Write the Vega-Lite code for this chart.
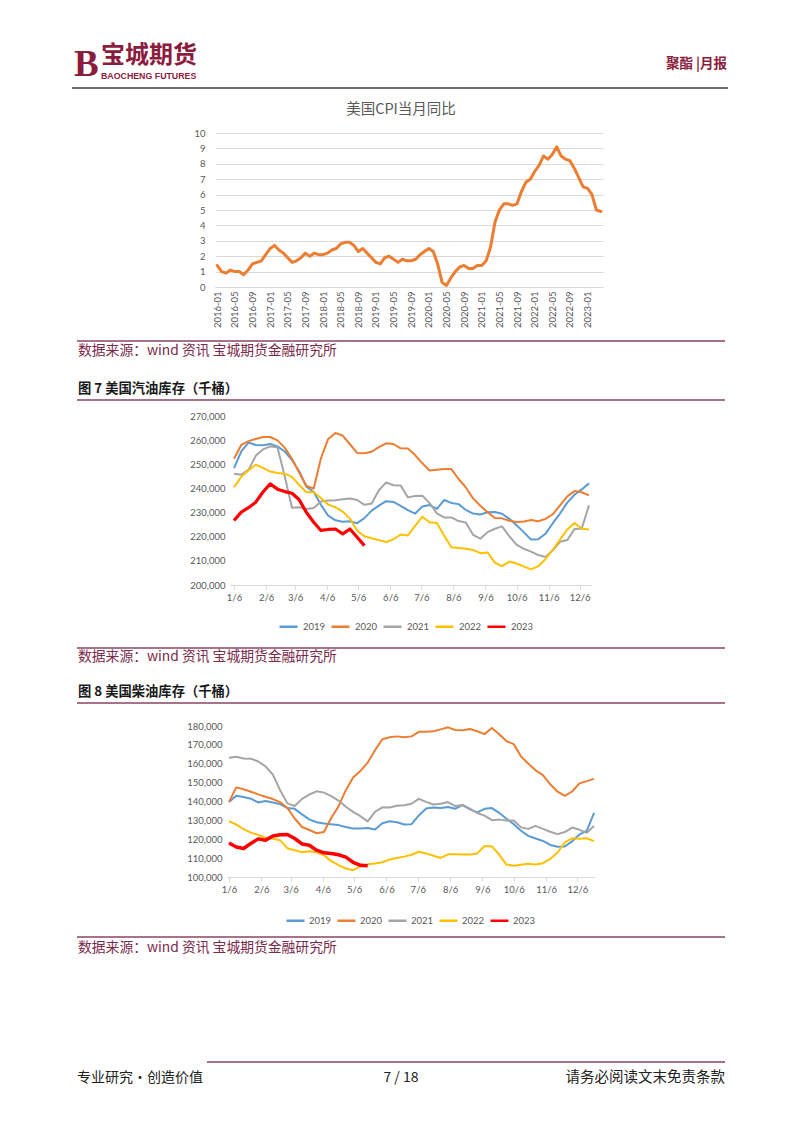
{
"$schema": "https://vega.github.io/schema/vega-lite/v6.json",
"padding": 0,
"background": "white",
"spacing": 0,
"bounds": "flush",
"center": true,
"resolve": {"scale": {"color": "independent", "x": "independent", "y": "independent"}, "legend": {"color": "independent"}},
"config": {"view": {"stroke": null}, "font": "Lato"},
"datasets": {
"cpi": [
{"m":"2016-01","v":1.4},{"m":"2016-02","v":1.0},{"m":"2016-03","v":0.9},{"m":"2016-04","v":1.1},{"m":"2016-05","v":1.0},{"m":"2016-06","v":1.0},{"m":"2016-07","v":0.8},{"m":"2016-08","v":1.1},{"m":"2016-09","v":1.5},{"m":"2016-10","v":1.6},{"m":"2016-11","v":1.7},{"m":"2016-12","v":2.1},
{"m":"2017-01","v":2.5},{"m":"2017-02","v":2.7},{"m":"2017-03","v":2.4},{"m":"2017-04","v":2.2},{"m":"2017-05","v":1.9},{"m":"2017-06","v":1.6},{"m":"2017-07","v":1.7},{"m":"2017-08","v":1.9},{"m":"2017-09","v":2.2},{"m":"2017-10","v":2.0},{"m":"2017-11","v":2.2},{"m":"2017-12","v":2.1},
{"m":"2018-01","v":2.1},{"m":"2018-02","v":2.2},{"m":"2018-03","v":2.4},{"m":"2018-04","v":2.5},{"m":"2018-05","v":2.8},{"m":"2018-06","v":2.9},{"m":"2018-07","v":2.9},{"m":"2018-08","v":2.7},{"m":"2018-09","v":2.3},{"m":"2018-10","v":2.5},{"m":"2018-11","v":2.2},{"m":"2018-12","v":1.9},
{"m":"2019-01","v":1.6},{"m":"2019-02","v":1.5},{"m":"2019-03","v":1.9},{"m":"2019-04","v":2.0},{"m":"2019-05","v":1.8},{"m":"2019-06","v":1.6},{"m":"2019-07","v":1.8},{"m":"2019-08","v":1.7},{"m":"2019-09","v":1.7},{"m":"2019-10","v":1.8},{"m":"2019-11","v":2.1},{"m":"2019-12","v":2.3},
{"m":"2020-01","v":2.5},{"m":"2020-02","v":2.3},{"m":"2020-03","v":1.5},{"m":"2020-04","v":0.3},{"m":"2020-05","v":0.1},{"m":"2020-06","v":0.6},{"m":"2020-07","v":1.0},{"m":"2020-08","v":1.3},{"m":"2020-09","v":1.4},{"m":"2020-10","v":1.2},{"m":"2020-11","v":1.2},{"m":"2020-12","v":1.4},
{"m":"2021-01","v":1.4},{"m":"2021-02","v":1.7},{"m":"2021-03","v":2.6},{"m":"2021-04","v":4.2},{"m":"2021-05","v":5.0},{"m":"2021-06","v":5.4},{"m":"2021-07","v":5.4},{"m":"2021-08","v":5.3},{"m":"2021-09","v":5.4},{"m":"2021-10","v":6.2},{"m":"2021-11","v":6.8},{"m":"2021-12","v":7.0},
{"m":"2022-01","v":7.5},{"m":"2022-02","v":7.9},{"m":"2022-03","v":8.5},{"m":"2022-04","v":8.3},{"m":"2022-05","v":8.6},{"m":"2022-06","v":9.1},{"m":"2022-07","v":8.5},{"m":"2022-08","v":8.3},{"m":"2022-09","v":8.2},{"m":"2022-10","v":7.7},{"m":"2022-11","v":7.1},{"m":"2022-12","v":6.5},
{"m":"2023-01","v":6.4},{"m":"2023-02","v":6.0},{"m":"2023-03","v":5.0},{"m":"2023-04","v":4.9}
],
"gas": [
{"d":"2023-01-06","s":"2019","v":248400},{"d":"2023-01-13","s":"2019","v":255300},{"d":"2023-01-20","s":"2019","v":259000},{"d":"2023-01-27","s":"2019","v":258000},{"d":"2023-02-03","s":"2019","v":257900},{"d":"2023-02-10","s":"2019","v":258400},{"d":"2023-02-17","s":"2019","v":257400},{"d":"2023-02-24","s":"2019","v":255300},{"d":"2023-03-03","s":"2019","v":251800},{"d":"2023-03-10","s":"2019","v":247100},
{"d":"2023-03-17","s":"2019","v":240700},{"d":"2023-03-24","s":"2019","v":238500},{"d":"2023-03-31","s":"2019","v":233200},{"d":"2023-04-07","s":"2019","v":228700},{"d":"2023-04-14","s":"2019","v":226800},{"d":"2023-04-21","s":"2019","v":226200},{"d":"2023-04-28","s":"2019","v":226400},{"d":"2023-05-05","s":"2019","v":225600},{"d":"2023-05-12","s":"2019","v":227700},{"d":"2023-05-19","s":"2019","v":230800},
{"d":"2023-05-26","s":"2019","v":232900},{"d":"2023-06-02","s":"2019","v":234700},{"d":"2023-06-09","s":"2019","v":234400},{"d":"2023-06-16","s":"2019","v":232800},{"d":"2023-06-23","s":"2019","v":231000},{"d":"2023-06-30","s":"2019","v":229600},{"d":"2023-07-07","s":"2019","v":232500},{"d":"2023-07-14","s":"2019","v":233100},{"d":"2023-07-21","s":"2019","v":231500},{"d":"2023-07-28","s":"2019","v":235200},
{"d":"2023-08-04","s":"2019","v":234000},{"d":"2023-08-11","s":"2019","v":233500},{"d":"2023-08-18","s":"2019","v":231100},{"d":"2023-08-25","s":"2019","v":229600},{"d":"2023-09-01","s":"2019","v":229200},{"d":"2023-09-08","s":"2019","v":230100},{"d":"2023-09-15","s":"2019","v":230200},{"d":"2023-09-22","s":"2019","v":229500},{"d":"2023-09-29","s":"2019","v":227400},{"d":"2023-10-06","s":"2019","v":224700},
{"d":"2023-10-13","s":"2019","v":221900},{"d":"2023-10-20","s":"2019","v":218800},{"d":"2023-10-27","s":"2019","v":219000},{"d":"2023-11-03","s":"2019","v":221200},{"d":"2023-11-10","s":"2019","v":225600},{"d":"2023-11-17","s":"2019","v":229600},{"d":"2023-11-24","s":"2019","v":234100},{"d":"2023-12-01","s":"2019","v":237400},{"d":"2023-12-08","s":"2019","v":239600},{"d":"2023-12-15","s":"2019","v":242100},
{"d":"2023-01-06","s":"2020","v":252300},{"d":"2023-01-13","s":"2020","v":258000},{"d":"2023-01-20","s":"2020","v":259600},{"d":"2023-01-27","s":"2020","v":260500},{"d":"2023-02-03","s":"2020","v":261300},{"d":"2023-02-10","s":"2020","v":261300},{"d":"2023-02-17","s":"2020","v":259900},{"d":"2023-02-24","s":"2020","v":256900},{"d":"2023-03-03","s":"2020","v":252300},{"d":"2023-03-10","s":"2020","v":246500},
{"d":"2023-03-17","s":"2020","v":241000},{"d":"2023-03-24","s":"2020","v":240000},{"d":"2023-03-31","s":"2020","v":252500},{"d":"2023-04-07","s":"2020","v":260500},{"d":"2023-04-14","s":"2020","v":263000},{"d":"2023-04-21","s":"2020","v":261900},{"d":"2023-04-28","s":"2020","v":258300},{"d":"2023-05-05","s":"2020","v":254700},{"d":"2023-05-12","s":"2020","v":254600},{"d":"2023-05-19","s":"2020","v":255200},
{"d":"2023-05-26","s":"2020","v":257100},{"d":"2023-06-02","s":"2020","v":258700},{"d":"2023-06-09","s":"2020","v":258400},{"d":"2023-06-16","s":"2020","v":256600},{"d":"2023-06-23","s":"2020","v":256500},{"d":"2023-06-30","s":"2020","v":253800},{"d":"2023-07-07","s":"2020","v":250400},{"d":"2023-07-14","s":"2020","v":247400},{"d":"2023-07-21","s":"2020","v":247700},{"d":"2023-07-28","s":"2020","v":248000},
{"d":"2023-08-04","s":"2020","v":248000},{"d":"2023-08-11","s":"2020","v":243900},{"d":"2023-08-18","s":"2020","v":240400},{"d":"2023-08-25","s":"2020","v":235900},{"d":"2023-09-01","s":"2020","v":232800},{"d":"2023-09-08","s":"2020","v":230100},{"d":"2023-09-15","s":"2020","v":227800},{"d":"2023-09-22","s":"2020","v":227600},{"d":"2023-09-29","s":"2020","v":226600},{"d":"2023-10-06","s":"2020","v":226100},
{"d":"2023-10-13","s":"2020","v":226300},{"d":"2023-10-20","s":"2020","v":226900},{"d":"2023-10-27","s":"2020","v":226400},{"d":"2023-11-03","s":"2020","v":227400},{"d":"2023-11-10","s":"2020","v":229300},{"d":"2023-11-17","s":"2020","v":233000},{"d":"2023-11-24","s":"2020","v":236700},{"d":"2023-12-01","s":"2020","v":238900},{"d":"2023-12-08","s":"2020","v":238400},{"d":"2023-12-15","s":"2020","v":237100},
{"d":"2023-01-06","s":"2021","v":246100},{"d":"2023-01-13","s":"2021","v":245700},{"d":"2023-01-20","s":"2021","v":247700},{"d":"2023-01-27","s":"2021","v":253500},{"d":"2023-02-03","s":"2021","v":256200},{"d":"2023-02-10","s":"2021","v":257400},{"d":"2023-02-17","s":"2021","v":257100},{"d":"2023-02-24","s":"2021","v":245000},{"d":"2023-03-03","s":"2021","v":232000},{"d":"2023-03-10","s":"2021","v":232200},
{"d":"2023-03-17","s":"2021","v":231500},{"d":"2023-03-24","s":"2021","v":231900},{"d":"2023-03-31","s":"2021","v":234600},{"d":"2023-04-07","s":"2021","v":235000},{"d":"2023-04-14","s":"2021","v":235100},{"d":"2023-04-21","s":"2021","v":235500},{"d":"2023-04-28","s":"2021","v":235800},{"d":"2023-05-05","s":"2021","v":235200},{"d":"2023-05-12","s":"2021","v":233200},{"d":"2023-05-19","s":"2021","v":233800},
{"d":"2023-05-26","s":"2021","v":239200},{"d":"2023-06-02","s":"2021","v":242500},{"d":"2023-06-09","s":"2021","v":241300},{"d":"2023-06-16","s":"2021","v":241200},{"d":"2023-06-23","s":"2021","v":236300},{"d":"2023-06-30","s":"2021","v":236900},{"d":"2023-07-07","s":"2021","v":237000},{"d":"2023-07-14","s":"2021","v":233900},{"d":"2023-07-21","s":"2021","v":229700},{"d":"2023-07-28","s":"2021","v":228000},
{"d":"2023-08-04","s":"2021","v":228000},{"d":"2023-08-11","s":"2021","v":226500},{"d":"2023-08-18","s":"2021","v":225900},{"d":"2023-08-25","s":"2021","v":220800},{"d":"2023-09-01","s":"2021","v":219200},{"d":"2023-09-08","s":"2021","v":221900},{"d":"2023-09-15","s":"2021","v":223300},{"d":"2023-09-22","s":"2021","v":224300},{"d":"2023-09-29","s":"2021","v":220200},{"d":"2023-10-06","s":"2021","v":216700},
{"d":"2023-10-13","s":"2021","v":215000},{"d":"2023-10-20","s":"2021","v":213800},{"d":"2023-10-27","s":"2021","v":212400},{"d":"2023-11-03","s":"2021","v":211600},{"d":"2023-11-10","s":"2021","v":214400},{"d":"2023-11-17","s":"2021","v":217900},{"d":"2023-11-24","s":"2021","v":218600},{"d":"2023-12-01","s":"2021","v":223200},{"d":"2023-12-08","s":"2021","v":223400},{"d":"2023-12-15","s":"2021","v":233000},
{"d":"2023-01-06","s":"2022","v":240500},{"d":"2023-01-13","s":"2022","v":244800},{"d":"2023-01-20","s":"2022","v":247500},{"d":"2023-01-27","s":"2022","v":249800},{"d":"2023-02-03","s":"2022","v":248500},{"d":"2023-02-10","s":"2022","v":247000},{"d":"2023-02-17","s":"2022","v":246400},{"d":"2023-02-24","s":"2022","v":246100},{"d":"2023-03-03","s":"2022","v":244800},{"d":"2023-03-10","s":"2022","v":241400},
{"d":"2023-03-17","s":"2022","v":238400},{"d":"2023-03-24","s":"2022","v":238500},{"d":"2023-03-31","s":"2022","v":236000},{"d":"2023-04-07","s":"2022","v":233300},{"d":"2023-04-14","s":"2022","v":232200},{"d":"2023-04-21","s":"2022","v":230400},{"d":"2023-04-28","s":"2022","v":227500},{"d":"2023-05-05","s":"2022","v":222600},{"d":"2023-05-12","s":"2022","v":220200},{"d":"2023-05-19","s":"2022","v":219400},
{"d":"2023-05-26","s":"2022","v":218600},{"d":"2023-06-02","s":"2022","v":217800},{"d":"2023-06-09","s":"2022","v":218900},{"d":"2023-06-16","s":"2022","v":220900},{"d":"2023-06-23","s":"2022","v":220500},{"d":"2023-06-30","s":"2022","v":224500},{"d":"2023-07-07","s":"2022","v":228300},{"d":"2023-07-14","s":"2022","v":226000},{"d":"2023-07-21","s":"2022","v":225700},{"d":"2023-07-28","s":"2022","v":220500},
{"d":"2023-08-04","s":"2022","v":215600},{"d":"2023-08-11","s":"2022","v":215300},{"d":"2023-08-18","s":"2022","v":215000},{"d":"2023-08-25","s":"2022","v":214500},{"d":"2023-09-01","s":"2022","v":213200},{"d":"2023-09-08","s":"2022","v":213500},{"d":"2023-09-15","s":"2022","v":209300},{"d":"2023-09-22","s":"2022","v":207800},{"d":"2023-09-29","s":"2022","v":209700},{"d":"2023-10-06","s":"2022","v":208900},
{"d":"2023-10-13","s":"2022","v":207700},{"d":"2023-10-20","s":"2022","v":206500},{"d":"2023-10-27","s":"2022","v":207800},{"d":"2023-11-03","s":"2022","v":210800},{"d":"2023-11-10","s":"2022","v":214600},{"d":"2023-11-17","s":"2022","v":218800},{"d":"2023-11-24","s":"2022","v":223000},{"d":"2023-12-01","s":"2022","v":225700},{"d":"2023-12-08","s":"2022","v":223300},{"d":"2023-12-15","s":"2022","v":223000},
{"d":"2023-01-06","s":"2023","v":226700},{"d":"2023-01-13","s":"2023","v":230200},{"d":"2023-01-20","s":"2023","v":232000},{"d":"2023-01-27","s":"2023","v":234300},{"d":"2023-02-03","s":"2023","v":238500},{"d":"2023-02-10","s":"2023","v":241900},{"d":"2023-02-17","s":"2023","v":239700},{"d":"2023-02-24","s":"2023","v":238700},{"d":"2023-03-03","s":"2023","v":238000},{"d":"2023-03-10","s":"2023","v":235300},
{"d":"2023-03-17","s":"2023","v":230000},{"d":"2023-03-24","s":"2023","v":226000},{"d":"2023-03-31","s":"2023","v":222600},{"d":"2023-04-07","s":"2023","v":223000},{"d":"2023-04-14","s":"2023","v":223200},{"d":"2023-04-21","s":"2023","v":221200},{"d":"2023-04-28","s":"2023","v":223200},{"d":"2023-05-05","s":"2023","v":219800},{"d":"2023-05-12","s":"2023","v":216300}
],
"diesel": [
{"d":"2023-01-06","s":"2019","v":139800},{"d":"2023-01-13","s":"2019","v":143100},{"d":"2023-01-20","s":"2019","v":142400},{"d":"2023-01-27","s":"2019","v":141500},{"d":"2023-02-03","s":"2019","v":139500},{"d":"2023-02-10","s":"2019","v":140300},{"d":"2023-02-17","s":"2019","v":139500},{"d":"2023-02-24","s":"2019","v":138600},{"d":"2023-03-03","s":"2019","v":136500},{"d":"2023-03-10","s":"2019","v":136100},
{"d":"2023-03-17","s":"2019","v":133200},{"d":"2023-03-24","s":"2019","v":130500},{"d":"2023-03-31","s":"2019","v":129000},{"d":"2023-04-07","s":"2019","v":128400},{"d":"2023-04-14","s":"2019","v":127900},{"d":"2023-04-21","s":"2019","v":127500},{"d":"2023-04-28","s":"2019","v":126500},{"d":"2023-05-05","s":"2019","v":125700},{"d":"2023-05-12","s":"2019","v":125700},{"d":"2023-05-19","s":"2019","v":126000},
{"d":"2023-05-26","s":"2019","v":125200},{"d":"2023-06-02","s":"2019","v":128500},{"d":"2023-06-09","s":"2019","v":129500},{"d":"2023-06-16","s":"2019","v":129000},{"d":"2023-06-23","s":"2019","v":127800},{"d":"2023-06-30","s":"2019","v":128000},{"d":"2023-07-07","s":"2019","v":132600},{"d":"2023-07-14","s":"2019","v":136300},{"d":"2023-07-21","s":"2019","v":136800},{"d":"2023-07-28","s":"2019","v":136600},
{"d":"2023-08-04","s":"2019","v":137100},{"d":"2023-08-11","s":"2019","v":136200},{"d":"2023-08-18","s":"2019","v":138100},{"d":"2023-08-25","s":"2019","v":135800},{"d":"2023-09-01","s":"2019","v":134200},{"d":"2023-09-08","s":"2019","v":136100},{"d":"2023-09-15","s":"2019","v":136500},{"d":"2023-09-22","s":"2019","v":134000},{"d":"2023-09-29","s":"2019","v":130900},{"d":"2023-10-06","s":"2019","v":128000},
{"d":"2023-10-13","s":"2019","v":124500},{"d":"2023-10-20","s":"2019","v":121800},{"d":"2023-10-27","s":"2019","v":120400},{"d":"2023-11-03","s":"2019","v":119100},{"d":"2023-11-10","s":"2019","v":117000},{"d":"2023-11-17","s":"2019","v":116000},{"d":"2023-11-24","s":"2019","v":116200},{"d":"2023-12-01","s":"2019","v":118900},{"d":"2023-12-08","s":"2019","v":122500},{"d":"2023-12-15","s":"2019","v":124500},{"d":"2023-12-22","s":"2019","v":134000},
{"d":"2023-01-06","s":"2020","v":139800},{"d":"2023-01-13","s":"2020","v":147500},{"d":"2023-01-20","s":"2020","v":146500},{"d":"2023-01-27","s":"2020","v":145200},{"d":"2023-02-03","s":"2020","v":143800},{"d":"2023-02-10","s":"2020","v":142500},{"d":"2023-02-17","s":"2020","v":141300},{"d":"2023-02-24","s":"2020","v":139600},{"d":"2023-03-03","s":"2020","v":136600},{"d":"2023-03-10","s":"2020","v":131000},
{"d":"2023-03-17","s":"2020","v":126500},{"d":"2023-03-24","s":"2020","v":124900},{"d":"2023-03-31","s":"2020","v":123200},{"d":"2023-04-07","s":"2020","v":123800},{"d":"2023-04-14","s":"2020","v":131300},{"d":"2023-04-21","s":"2020","v":137400},{"d":"2023-04-28","s":"2020","v":146000},{"d":"2023-05-05","s":"2020","v":152700},{"d":"2023-05-12","s":"2020","v":156200},{"d":"2023-05-19","s":"2020","v":160600},
{"d":"2023-05-26","s":"2020","v":167200},{"d":"2023-06-02","s":"2020","v":173000},{"d":"2023-06-09","s":"2020","v":174000},{"d":"2023-06-16","s":"2020","v":174500},{"d":"2023-06-23","s":"2020","v":174000},{"d":"2023-06-30","s":"2020","v":174500},{"d":"2023-07-07","s":"2020","v":176900},{"d":"2023-07-14","s":"2020","v":177000},{"d":"2023-07-21","s":"2020","v":177200},{"d":"2023-07-28","s":"2020","v":178200},
{"d":"2023-08-04","s":"2020","v":179300},{"d":"2023-08-11","s":"2020","v":177900},{"d":"2023-08-18","s":"2020","v":177800},{"d":"2023-08-25","s":"2020","v":178400},{"d":"2023-09-01","s":"2020","v":177200},{"d":"2023-09-08","s":"2020","v":175700},{"d":"2023-09-15","s":"2020","v":179000},{"d":"2023-09-22","s":"2020","v":175600},{"d":"2023-09-29","s":"2020","v":172000},{"d":"2023-10-06","s":"2020","v":170400},
{"d":"2023-10-13","s":"2020","v":163800},{"d":"2023-10-20","s":"2020","v":160000},{"d":"2023-10-27","s":"2020","v":156500},{"d":"2023-11-03","s":"2020","v":154000},{"d":"2023-11-10","s":"2020","v":149100},{"d":"2023-11-17","s":"2020","v":145200},{"d":"2023-11-24","s":"2020","v":143000},{"d":"2023-12-01","s":"2020","v":145300},{"d":"2023-12-08","s":"2020","v":149600},{"d":"2023-12-15","s":"2020","v":150800},{"d":"2023-12-22","s":"2020","v":152000},
{"d":"2023-01-06","s":"2021","v":163200},{"d":"2023-01-13","s":"2021","v":163700},{"d":"2023-01-20","s":"2021","v":162800},{"d":"2023-01-27","s":"2021","v":162700},{"d":"2023-02-03","s":"2021","v":161200},{"d":"2023-02-10","s":"2021","v":158600},{"d":"2023-02-17","s":"2021","v":154300},{"d":"2023-02-24","s":"2021","v":146000},{"d":"2023-03-03","s":"2021","v":139000},{"d":"2023-03-10","s":"2021","v":137600},
{"d":"2023-03-17","s":"2021","v":141400},{"d":"2023-03-24","s":"2021","v":143700},{"d":"2023-03-31","s":"2021","v":145400},{"d":"2023-04-07","s":"2021","v":144700},{"d":"2023-04-14","s":"2021","v":142800},{"d":"2023-04-21","s":"2021","v":140500},{"d":"2023-04-28","s":"2021","v":137200},{"d":"2023-05-05","s":"2021","v":134500},{"d":"2023-05-12","s":"2021","v":132200},{"d":"2023-05-19","s":"2021","v":129500},
{"d":"2023-05-26","s":"2021","v":134500},{"d":"2023-06-02","s":"2021","v":136900},{"d":"2023-06-09","s":"2021","v":136800},{"d":"2023-06-16","s":"2021","v":137700},{"d":"2023-06-23","s":"2021","v":138000},{"d":"2023-06-30","s":"2021","v":138800},{"d":"2023-07-07","s":"2021","v":141400},{"d":"2023-07-14","s":"2021","v":139800},{"d":"2023-07-21","s":"2021","v":138400},{"d":"2023-07-28","s":"2021","v":138800},
{"d":"2023-08-04","s":"2021","v":139700},{"d":"2023-08-11","s":"2021","v":137600},{"d":"2023-08-18","s":"2021","v":138200},{"d":"2023-08-25","s":"2021","v":136200},{"d":"2023-09-01","s":"2021","v":133900},{"d":"2023-09-08","s":"2021","v":132500},{"d":"2023-09-15","s":"2021","v":130100},{"d":"2023-09-22","s":"2021","v":130400},{"d":"2023-09-29","s":"2021","v":129900},{"d":"2023-10-06","s":"2021","v":129900},
{"d":"2023-10-13","s":"2021","v":126300},{"d":"2023-10-20","s":"2021","v":125500},{"d":"2023-10-27","s":"2021","v":127100},{"d":"2023-11-03","s":"2021","v":125500},{"d":"2023-11-10","s":"2021","v":124000},{"d":"2023-11-17","s":"2021","v":122700},{"d":"2023-11-24","s":"2021","v":123800},{"d":"2023-12-01","s":"2021","v":126200},{"d":"2023-12-08","s":"2021","v":125000},{"d":"2023-12-15","s":"2021","v":123400},{"d":"2023-12-22","s":"2021","v":127000},
{"d":"2023-01-06","s":"2022","v":129600},{"d":"2023-01-13","s":"2022","v":127800},{"d":"2023-01-20","s":"2022","v":125400},{"d":"2023-01-27","s":"2022","v":123500},{"d":"2023-02-03","s":"2022","v":122300},{"d":"2023-02-10","s":"2022","v":120800},{"d":"2023-02-17","s":"2022","v":120300},{"d":"2023-02-24","s":"2022","v":119500},{"d":"2023-03-03","s":"2022","v":115200},{"d":"2023-03-10","s":"2022","v":114200},
{"d":"2023-03-17","s":"2022","v":113100},{"d":"2023-03-24","s":"2022","v":113600},{"d":"2023-03-31","s":"2022","v":113100},{"d":"2023-04-07","s":"2022","v":111500},{"d":"2023-04-14","s":"2022","v":108400},{"d":"2023-04-21","s":"2022","v":106300},{"d":"2023-04-28","s":"2022","v":104500},{"d":"2023-05-05","s":"2022","v":103600},{"d":"2023-05-12","s":"2022","v":105600},{"d":"2023-05-19","s":"2022","v":106700},
{"d":"2023-05-26","s":"2022","v":107100},{"d":"2023-06-02","s":"2022","v":107800},{"d":"2023-06-09","s":"2022","v":109300},{"d":"2023-06-16","s":"2022","v":110100},{"d":"2023-06-23","s":"2022","v":110800},{"d":"2023-06-30","s":"2022","v":111800},{"d":"2023-07-07","s":"2022","v":113400},{"d":"2023-07-14","s":"2022","v":112500},{"d":"2023-07-21","s":"2022","v":111300},{"d":"2023-07-28","s":"2022","v":110100},
{"d":"2023-08-04","s":"2022","v":112000},{"d":"2023-08-11","s":"2022","v":112100},{"d":"2023-08-18","s":"2022","v":111900},{"d":"2023-08-25","s":"2022","v":111900},{"d":"2023-09-01","s":"2022","v":112500},{"d":"2023-09-08","s":"2022","v":116400},{"d":"2023-09-15","s":"2022","v":116200},{"d":"2023-09-22","s":"2022","v":111900},{"d":"2023-09-29","s":"2022","v":106600},{"d":"2023-10-06","s":"2022","v":106000},
{"d":"2023-10-13","s":"2022","v":106500},{"d":"2023-10-20","s":"2022","v":107000},{"d":"2023-10-27","s":"2022","v":106600},{"d":"2023-11-03","s":"2022","v":107300},{"d":"2023-11-10","s":"2022","v":109600},{"d":"2023-11-17","s":"2022","v":113000},{"d":"2023-11-24","s":"2022","v":118400},{"d":"2023-12-01","s":"2022","v":120500},{"d":"2023-12-08","s":"2022","v":120300},{"d":"2023-12-15","s":"2022","v":120500},{"d":"2023-12-22","s":"2022","v":119000},
{"d":"2023-01-06","s":"2023","v":118000},{"d":"2023-01-13","s":"2023","v":115900},{"d":"2023-01-20","s":"2023","v":115100},{"d":"2023-01-27","s":"2023","v":117800},{"d":"2023-02-03","s":"2023","v":120200},{"d":"2023-02-10","s":"2023","v":119500},{"d":"2023-02-17","s":"2023","v":121700},{"d":"2023-02-24","s":"2023","v":122400},{"d":"2023-03-03","s":"2023","v":122500},{"d":"2023-03-10","s":"2023","v":120400},
{"d":"2023-03-17","s":"2023","v":117500},{"d":"2023-03-24","s":"2023","v":116800},{"d":"2023-03-31","s":"2023","v":114200},{"d":"2023-04-07","s":"2023","v":112800},{"d":"2023-04-14","s":"2023","v":112400},{"d":"2023-04-21","s":"2023","v":111800},{"d":"2023-04-28","s":"2023","v":110500},{"d":"2023-05-05","s":"2023","v":107800},{"d":"2023-05-12","s":"2023","v":106200},{"d":"2023-05-19","s":"2023","v":105900}
]
},
"vconcat": [
{
"width": 802, "height": 133,
"layer": [
{"data": {"values": [{"t": "B"}]}, "mark": {"type": "text", "align": "left", "baseline": "alphabetic", "font": "Liberation Serif", "fontSize": 37, "fontWeight": "bold", "color": "#8b1c3e"}, "encoding": {"x": {"datum": 74, "type": "quantitative", "scale": {"domain": [0, 802], "nice": false, "zero": false}, "axis": null}, "y": {"datum": 76, "type": "quantitative", "scale": {"domain": [0, 133], "nice": false, "zero": false, "reverse": true}, "axis": null}, "text": {"field": "t", "type": "nominal"}}},
{"data": {"values": [{"t": "宝城期货"}]}, "mark": {"type": "text", "align": "left", "baseline": "middle", "font": "Noto Sans CJK SC", "fontSize": 24, "fontWeight": "bold", "color": "#8b1c3e"}, "encoding": {"x": {"datum": 101, "type": "quantitative", "axis": null}, "y": {"datum": 56, "type": "quantitative", "axis": null}, "text": {"field": "t", "type": "nominal"}}},
{"data": {"values": [{"t": "BAOCHENG FUTURES"}]}, "mark": {"type": "text", "align": "left", "baseline": "middle", "font": "Liberation Sans", "fontSize": 8.8, "fontWeight": "bold", "color": "#8b1c3e"}, "encoding": {"x": {"datum": 101, "type": "quantitative", "axis": null}, "y": {"datum": 76, "type": "quantitative", "axis": null}, "text": {"field": "t", "type": "nominal"}}},
{"data": {"values": [{"t": "聚酯  |月报"}]}, "mark": {"type": "text", "align": "right", "baseline": "middle", "font": "Noto Sans CJK SC", "fontSize": 13.5, "fontWeight": "bold", "color": "#8b1c3e"}, "encoding": {"x": {"datum": 727, "type": "quantitative", "axis": null}, "y": {"datum": 64, "type": "quantitative", "axis": null}, "text": {"field": "t", "type": "nominal"}}},
{"data": {"values": [{}]}, "mark": {"type": "rule", "color": "#3a3a3a", "strokeWidth": 1.5}, "encoding": {"x": {"datum": 72, "type": "quantitative", "axis": null}, "x2": {"datum": 728}, "y": {"datum": 88, "type": "quantitative", "axis": null}}}
]
},
{
"width": 404, "height": 154,
"title": {"text": "美国CPI当月同比", "font": "Noto Sans CJK SC", "fontSize": 14.5, "fontWeight": "normal", "color": "#595959", "offset": 11, "anchor": "middle"},
"data": {"name": "cpi"},
"mark": {"type": "line", "color": "#ED7D31", "strokeWidth": 3, "strokeJoin": "round", "strokeCap": "round"},
"encoding": {
"x": {"field": "m", "type": "ordinal", "scale": {"type": "point", "padding": 0.5, "range": [16, 404]},
"axis": {"title": null, "values": ["2016-01","2016-05","2016-09","2017-01","2017-05","2017-09","2018-01","2018-05","2018-09","2019-01","2019-05","2019-09","2020-01","2020-05","2020-09","2021-01","2021-05","2021-09","2022-01","2022-05","2022-09","2023-01"], "labelAngle": -90, "labelFontSize": 9.5, "labelColor": "#595959", "labelFont": "Lato", "ticks": false, "domain": true, "domainColor": "#d9d9d9", "labelPadding": 4, "grid": false}},
"y": {"field": "v", "type": "quantitative", "scale": {"domain": [0, 10], "nice": false},
"axis": {"title": null, "values": [0,1,2,3,4,5,6,7,8,9,10], "grid": true, "gridColor": "#d9d9d9", "domain": false, "ticks": false, "labelFontSize": 9.5, "labelColor": "#595959", "labelFont": "Lato", "labelPadding": 10, "offset": -16}}
}
},
{
"width": 802, "height": 129,
"layer": [
{"data": {"values": [{}]}, "mark": {"type": "rule", "color": "#8a4565", "strokeWidth": 1.3}, "encoding": {"x": {"datum": 77, "type": "quantitative", "scale": {"domain": [0, 802], "nice": false, "zero": false}, "axis": null}, "x2": {"datum": 725}, "y": {"datum": 54, "type": "quantitative", "scale": {"domain": [0, 129], "nice": false, "zero": false, "reverse": true}, "axis": null}}},
{"data": {"values": [{"t": "数据来源：wind 资讯 宝城期货金融研究所"}]}, "mark": {"type": "text", "align": "left", "baseline": "middle", "font": "Noto Sans CJK SC", "fontSize": 13.8, "color": "#7a2a4a"}, "encoding": {"x": {"datum": 78, "type": "quantitative", "axis": null}, "y": {"datum": 64, "type": "quantitative", "axis": null}, "text": {"field": "t", "type": "nominal"}}},
{"data": {"values": [{"t": "图 7 美国汽油库存（千桶）"}]}, "mark": {"type": "text", "align": "left", "baseline": "middle", "font": "Noto Sans CJK SC", "fontSize": 13.3, "fontWeight": "bold", "color": "#1a1a1a"}, "encoding": {"x": {"datum": 78, "type": "quantitative", "axis": null}, "y": {"datum": 102, "type": "quantitative", "axis": null}, "text": {"field": "t", "type": "nominal"}}},
{"data": {"values": [{}]}, "mark": {"type": "rule", "color": "#8a4565", "strokeWidth": 1.3}, "encoding": {"x": {"datum": 77, "type": "quantitative", "axis": null}, "x2": {"datum": 725}, "y": {"datum": 113, "type": "quantitative", "axis": null}}}
]
},
{
"width": 382, "height": 169,
"data": {"name": "gas"},
"mark": {"type": "line", "strokeJoin": "round"},
"encoding": {
"x": {"field": "d", "type": "temporal", "scale": {"type": "utc", "domain": [{"year": 2023, "month": 1, "date": 2, "hours": 3, "utc": true}, {"year": 2023, "month": 12, "date": 17, "hours": 22, "utc": true}], "range": [20, 382]},
"axis": {"title": null, "format": "%-m/%-d", "values": [{"year":2023,"month":1,"date":6,"utc":true},{"year":2023,"month":2,"date":6,"utc":true},{"year":2023,"month":3,"date":6,"utc":true},{"year":2023,"month":4,"date":6,"utc":true},{"year":2023,"month":5,"date":6,"utc":true},{"year":2023,"month":6,"date":6,"utc":true},{"year":2023,"month":7,"date":6,"utc":true},{"year":2023,"month":8,"date":6,"utc":true},{"year":2023,"month":9,"date":6,"utc":true},{"year":2023,"month":10,"date":6,"utc":true},{"year":2023,"month":11,"date":6,"utc":true},{"year":2023,"month":12,"date":6,"utc":true}], "labelFontSize": 9.5, "labelColor": "#595959", "labelFont": "Lato", "domainColor": "#d9d9d9", "tickColor": "#d9d9d9", "tickSize": 4, "labelPadding": 3, "grid": false, "labelFlush": false, "labelOverlap": false}},
"y": {"field": "v", "type": "quantitative", "scale": {"domain": [200000, 270000], "nice": false, "zero": false},
"axis": {"title": null, "values": [200000,210000,220000,230000,240000,250000,260000,270000], "format": ",d", "grid": false, "domain": false, "ticks": false, "labelFontSize": 9.5, "labelColor": "#595959", "labelFont": "Lato", "labelPadding": 5, "offset": -20}},
"color": {"field": "s", "type": "nominal", "scale": {"domain": ["2019","2020","2021","2022","2023"], "range": ["#5B9BD5","#ED7D31","#A5A5A5","#FFC000","#FF0000"]},
"legend": {"orient": "none", "legendX": 68, "legendY": 200, "direction": "horizontal", "title": null, "symbolType": "stroke", "symbolSize": 324, "symbolStrokeWidth": 2.5, "labelFontSize": 9.5, "labelColor": "#595959", "labelFont": "Lato", "columnPadding": 0, "labelOffset": 4}},
"strokeWidth": {"condition": {"test": "datum.s === '2023'", "value": 3.2}, "value": 2}
}
},
{
"width": 802, "height": 141,
"layer": [
{"data": {"values": [{}]}, "mark": {"type": "rule", "color": "#8a4565", "strokeWidth": 1.3}, "encoding": {"x": {"datum": 77, "type": "quantitative", "scale": {"domain": [0, 802], "nice": false, "zero": false}, "axis": null}, "x2": {"datum": 725}, "y": {"datum": 63, "type": "quantitative", "scale": {"domain": [0, 141], "nice": false, "zero": false, "reverse": true}, "axis": null}}},
{"data": {"values": [{"t": "数据来源：wind 资讯 宝城期货金融研究所"}]}, "mark": {"type": "text", "align": "left", "baseline": "middle", "font": "Noto Sans CJK SC", "fontSize": 13.8, "color": "#7a2a4a"}, "encoding": {"x": {"datum": 78, "type": "quantitative", "axis": null}, "y": {"datum": 72, "type": "quantitative", "axis": null}, "text": {"field": "t", "type": "nominal"}}},
{"data": {"values": [{"t": "图 8 美国柴油库存（千桶）"}]}, "mark": {"type": "text", "align": "left", "baseline": "middle", "font": "Noto Sans CJK SC", "fontSize": 13.3, "fontWeight": "bold", "color": "#1a1a1a"}, "encoding": {"x": {"datum": 78, "type": "quantitative", "axis": null}, "y": {"datum": 107, "type": "quantitative", "axis": null}, "text": {"field": "t", "type": "nominal"}}},
{"data": {"values": [{}]}, "mark": {"type": "rule", "color": "#8a4565", "strokeWidth": 1.3}, "encoding": {"x": {"datum": 77, "type": "quantitative", "axis": null}, "x2": {"datum": 725}, "y": {"datum": 118, "type": "quantitative", "axis": null}}}
]
},
{
"width": 388, "height": 151,
"data": {"name": "diesel"},
"mark": {"type": "line", "strokeJoin": "round"},
"encoding": {
"x": {"field": "d", "type": "temporal", "scale": {"type": "utc", "domain": [{"year": 2023, "month": 1, "date": 4, "hours": 2, "utc": true}, {"year": 2023, "month": 12, "date": 22, "hours": 22, "utc": true}], "range": [20, 388]},
"axis": {"title": null, "format": "%-m/%-d", "values": [{"year":2023,"month":1,"date":6,"utc":true},{"year":2023,"month":2,"date":6,"utc":true},{"year":2023,"month":3,"date":6,"utc":true},{"year":2023,"month":4,"date":6,"utc":true},{"year":2023,"month":5,"date":6,"utc":true},{"year":2023,"month":6,"date":6,"utc":true},{"year":2023,"month":7,"date":6,"utc":true},{"year":2023,"month":8,"date":6,"utc":true},{"year":2023,"month":9,"date":6,"utc":true},{"year":2023,"month":10,"date":6,"utc":true},{"year":2023,"month":11,"date":6,"utc":true},{"year":2023,"month":12,"date":6,"utc":true}], "labelFontSize": 9.5, "labelColor": "#595959", "labelFont": "Lato", "domainColor": "#d9d9d9", "tickColor": "#d9d9d9", "tickSize": 4, "labelPadding": 3, "grid": false, "labelFlush": false, "labelOverlap": false}},
"y": {"field": "v", "type": "quantitative", "scale": {"domain": [100000, 180000], "nice": false, "zero": false},
"axis": {"title": null, "values": [100000,110000,120000,130000,140000,150000,160000,170000,180000], "format": ",d", "grid": false, "domain": false, "ticks": false, "labelFontSize": 9.5, "labelColor": "#595959", "labelFont": "Lato", "labelPadding": 5, "offset": -20}},
"color": {"field": "s", "type": "nominal", "scale": {"domain": ["2019","2020","2021","2022","2023"], "range": ["#5B9BD5","#ED7D31","#A5A5A5","#FFC000","#FF0000"]},
"legend": {"orient": "none", "legendX": 78, "legendY": 184, "direction": "horizontal", "title": null, "symbolType": "stroke", "symbolSize": 324, "symbolStrokeWidth": 2.5, "labelFontSize": 9.5, "labelColor": "#595959", "labelFont": "Lato", "columnPadding": 0, "labelOffset": 3}},
"strokeWidth": {"condition": {"test": "datum.s === '2023'", "value": 3.5}, "value": 2}
}
},
{
"width": 802, "height": 256,
"layer": [
{"data": {"values": [{}]}, "mark": {"type": "rule", "color": "#8a4565", "strokeWidth": 1.3}, "encoding": {"x": {"datum": 77, "type": "quantitative", "scale": {"domain": [0, 802], "nice": false, "zero": false}, "axis": null}, "x2": {"datum": 725}, "y": {"datum": 60, "type": "quantitative", "scale": {"domain": [0, 256], "nice": false, "zero": false, "reverse": true}, "axis": null}}},
{"data": {"values": [{"t": "数据来源：wind 资讯 宝城期货金融研究所"}]}, "mark": {"type": "text", "align": "left", "baseline": "middle", "font": "Noto Sans CJK SC", "fontSize": 13.8, "color": "#7a2a4a"}, "encoding": {"x": {"datum": 78, "type": "quantitative", "axis": null}, "y": {"datum": 71, "type": "quantitative", "axis": null}, "text": {"field": "t", "type": "nominal"}}},
{"data": {"values": [{}]}, "mark": {"type": "rule", "color": "#8a4565", "strokeWidth": 1.3}, "encoding": {"x": {"datum": 207, "type": "quantitative", "axis": null}, "x2": {"datum": 725}, "y": {"datum": 185, "type": "quantitative", "axis": null}}},
{"data": {"values": [{"t": "专业研究•创造价值"}]}, "mark": {"type": "text", "align": "left", "baseline": "middle", "font": "Noto Sans CJK SC", "fontSize": 14, "color": "#222222"}, "encoding": {"x": {"datum": 77, "type": "quantitative", "axis": null}, "y": {"datum": 201, "type": "quantitative", "axis": null}, "text": {"field": "t", "type": "nominal"}}},
{"data": {"values": [{"t": "7 / 18"}]}, "mark": {"type": "text", "align": "center", "baseline": "middle", "font": "Noto Sans CJK SC", "fontSize": 14, "color": "#222222"}, "encoding": {"x": {"datum": 401, "type": "quantitative", "axis": null}, "y": {"datum": 201, "type": "quantitative", "axis": null}, "text": {"field": "t", "type": "nominal"}}},
{"data": {"values": [{"t": "请务必阅读文末免责条款"}]}, "mark": {"type": "text", "align": "right", "baseline": "middle", "font": "Noto Sans CJK SC", "fontSize": 14.5, "color": "#222222"}, "encoding": {"x": {"datum": 725, "type": "quantitative", "axis": null}, "y": {"datum": 201, "type": "quantitative", "axis": null}, "text": {"field": "t", "type": "nominal"}}}
]
}
]
}
